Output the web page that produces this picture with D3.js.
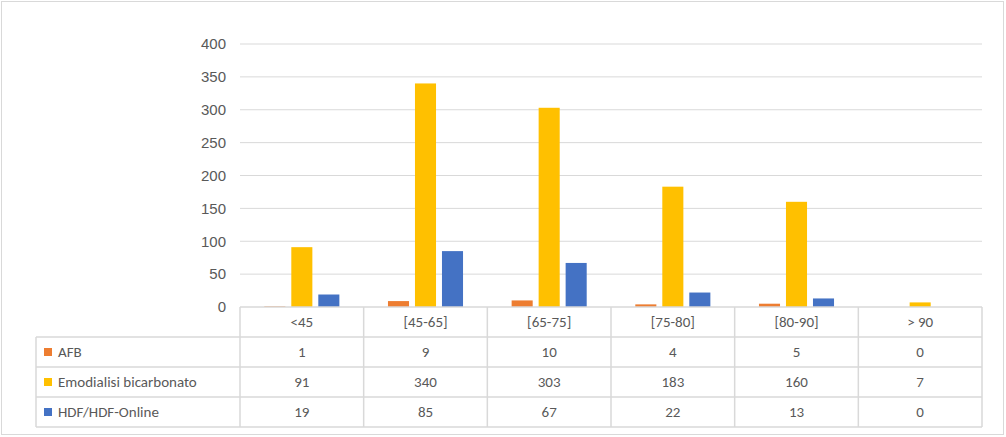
<!DOCTYPE html>
<html><head><meta charset="utf-8">
<script src="https://cdn.jsdelivr.net/npm/d3@7"></script>
<style>body{margin:0;background:#fff}svg{font-family:Calibri,"Liberation Sans","DejaVu Sans",sans-serif}</style>
</head><body><div id="chart"></div>
<script>
const categories = ["<45", "[45-65]", "[65-75]", "[75-80]", "[80-90]", "> 90"];
const seriesNames = ["AFB", "Emodialisi bicarbonato", "HDF/HDF-Online"];
const afb = [1, 9, 10, 4, 5, 0];
const emodialisi = [91, 340, 303, 183, 160, 7];
const hdf = [19, 85, 67, 22, 13, 0];
const colors = ["#ED7D31", "#FFC000", "#4472C4"];
const yTicks = [0, 50, 100, 150, 200, 250, 300, 350, 400];

const series = [afb, emodialisi, hdf];
const W = 1006, H = 437;
const plotLeft = 240, plotRight = 982, plotTop = 44, base = 307, tLeft = 36, rowH = 30;

const svg = d3.select("#chart").append("svg").attr("width", W).attr("height", H);
svg.append("rect").attr("x", 1.5).attr("y", 1.5).attr("width", W - 4).attr("height", H - 4)
  .attr("fill", "#fff").attr("stroke", "#d9d9d9");

const x = d3.scaleBand().domain(categories).range([plotLeft, plotRight]);
const xs = d3.scaleBand().domain(d3.range(3)).range([0, x.bandwidth()]).paddingInner(0.22).paddingOuter(0.9);
const y = d3.scaleLinear().domain([0, 400]).range([base, plotTop]);

// gridlines
svg.append("g").selectAll("line").data(yTicks.slice(1)).join("line")
  .attr("x1", plotLeft).attr("x2", plotRight).attr("y1", d => y(d)).attr("y2", d => y(d))
  .attr("stroke", "#d9d9d9");

// y axis
const yAxis = svg.append("g").attr("transform", `translate(${plotLeft - 14},0)`)
  .call(d3.axisLeft(y).tickValues(yTicks).tickSize(0).tickPadding(0));
yAxis.select(".domain").remove();
yAxis.selectAll("text").attr("font-size", 15).attr("fill", "#595959");

// bars
series.forEach((vals, si) => {
  svg.append("g").selectAll("rect").data(vals).join("rect")
    .attr("x", (d, i) => x(categories[i]) + xs(si))
    .attr("width", xs.bandwidth())
    .attr("y", d => y(d)).attr("height", d => base - y(d))
    .attr("fill", colors[si]);
});

// data table
const g = svg.append("g").attr("stroke", "#d9d9d9").attr("stroke-width", 1.5);
const bottom = base + rowH * 4;
g.append("line").attr("x1", plotLeft).attr("x2", plotRight).attr("y1", base).attr("y2", base);
d3.range(1, 5).forEach(r => g.append("line").attr("x1", tLeft).attr("x2", plotRight)
  .attr("y1", base + r * rowH).attr("y2", base + r * rowH));
g.append("line").attr("x1", tLeft).attr("x2", tLeft).attr("y1", base + rowH).attr("y2", bottom);
categories.forEach(c => g.append("line").attr("x1", x(c)).attr("x2", x(c)).attr("y1", base).attr("y2", bottom));
g.append("line").attr("x1", plotRight).attr("x2", plotRight).attr("y1", base).attr("y2", bottom);

const txt = svg.append("g").attr("font-size", 15).attr("fill", "#595959");
txt.selectAll("text.cat").data(categories).join("text")
  .attr("x", d => x(d) + x.bandwidth() / 2).attr("y", base + rowH / 2 + 5)
  .attr("text-anchor", "middle").text(d => d);
series.forEach((vals, si) => {
  const cy = base + rowH * (si + 1) + rowH / 2;
  txt.append("rect").attr("x", tLeft + 8).attr("y", cy - 4).attr("width", 8).attr("height", 8).attr("fill", colors[si]);
  txt.append("text").attr("x", tLeft + 22).attr("y", cy + 5).text(seriesNames[si]);
  txt.selectAll(null).data(vals).join("text")
    .attr("x", (d, i) => x(categories[i]) + x.bandwidth() / 2).attr("y", cy + 5)
    .attr("text-anchor", "middle").text(d => d);
});
</script></body></html>
